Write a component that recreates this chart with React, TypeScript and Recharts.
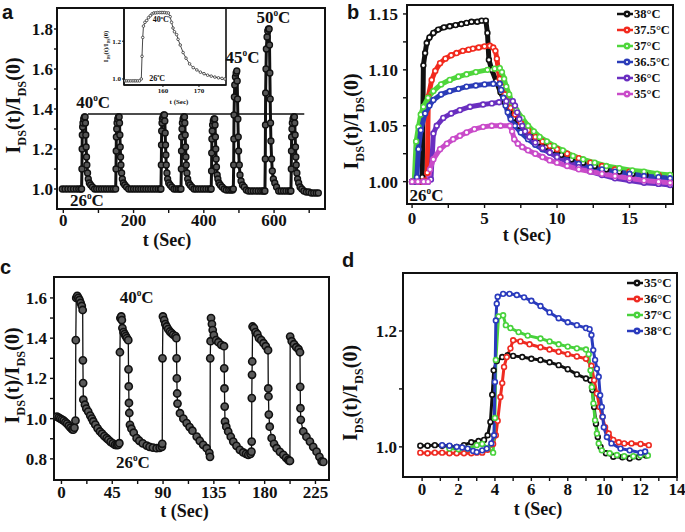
import React from 'react';
import {
  LineChart, Line, XAxis, YAxis, ReferenceArea, ReferenceDot, ReferenceLine, Legend,
} from 'recharts';

type Pt = [number, number];

// ---- panel a: long run, 26 C baseline with 40 / 45 / 50 C pulses
const runA: Pt[] = [
  [-3, 1.0], [5, 1.0], [13, 1.0], [21, 1.0], [29, 1.0], [37, 1.0], [44, 1.0], [50, 1.0],
  [52, 1.0], [53, 1.1], [53.5, 1.2], [54, 1.27], [55, 1.31], [56, 1.33], [58, 1.35], [60, 1.36], [62, 1.36],
  [63, 1.33], [64, 1.27], [65, 1.21], [66, 1.16], [67, 1.12], [69, 1.08], [71, 1.05], [74, 1.03], [78, 1.02], [83, 1.01], [89, 1.0],
  [95, 1.0], [102, 1.0], [109, 1.0], [116, 1.0], [123, 1.0], [130, 1.0], [137, 1.0], [143, 1.0],
  [149, 1.0], [150, 1.1], [150.5, 1.19], [151, 1.26], [152, 1.3], [153, 1.33], [155, 1.35], [157, 1.36], [159, 1.36],
  [160, 1.33], [161, 1.27], [162, 1.21], [163, 1.16], [164, 1.12], [166, 1.08], [168, 1.05], [171, 1.03], [175, 1.02], [180, 1.01], [186, 1.0],
  [193, 1.0], [200, 1.0], [207, 1.0], [214, 1.0], [221, 1.0], [228, 1.0], [235, 1.0], [242, 1.0], [249, 1.0], [256, 1.0], [263, 1.0], [270, 1.0], [276, 1.0],
  [278, 1.0], [279, 1.12], [279.5, 1.22], [280, 1.29], [281, 1.33], [282, 1.35], [284, 1.36], [286, 1.37], [288, 1.37],
  [289, 1.34], [290, 1.28], [291, 1.22], [292, 1.17], [293, 1.12], [295, 1.08], [297, 1.05], [300, 1.03], [304, 1.02], [309, 1.01], [315, 1.0],
  [321, 1.0], [327, 1.0], [332, 1.0],
  [335, 1.0], [336, 1.1], [336.5, 1.19], [337, 1.26], [338, 1.3], [339, 1.33], [341, 1.35], [343, 1.36], [345, 1.36],
  [346, 1.33], [347, 1.27], [348, 1.21], [349, 1.16], [350, 1.12], [352, 1.08], [354, 1.05], [357, 1.03], [361, 1.02], [366, 1.01], [372, 1.0],
  [378, 1.0], [385, 1.0], [392, 1.0], [399, 1.0], [406, 1.0], [413, 1.0], [419, 1.0],
  [421, 1.0], [422, 1.09], [422.5, 1.18], [423, 1.25], [424, 1.29], [425, 1.32], [427, 1.34], [429, 1.35], [431, 1.35],
  [432, 1.32], [433, 1.26], [434, 1.2], [435, 1.15], [436, 1.11], [438, 1.07], [440, 1.05], [443, 1.03], [447, 1.02], [452, 1.01], [458, 1.0],
  [464, 0.995], [471, 0.995], [477, 0.995], [482, 0.995],
  [484, 1.0], [485, 1.12], [485.5, 1.25], [486, 1.37], [487, 1.46], [488, 1.52], [490, 1.56], [492, 1.58], [494, 1.59],
  [495, 1.54], [496, 1.45], [497, 1.35], [498, 1.26], [499, 1.19], [501, 1.12], [503, 1.07], [506, 1.04], [510, 1.02], [515, 1.01], [521, 0.995],
  [527, 0.99], [534, 0.99], [541, 0.99], [548, 0.99], [555, 0.99], [562, 0.99], [568, 0.99], [572, 0.99],
  [574, 0.99], [575, 1.15], [575.5, 1.32], [576, 1.48], [577, 1.6], [578, 1.7], [580, 1.76], [582, 1.79], [584, 1.8], [586, 1.8],
  [587, 1.72], [588, 1.58], [589, 1.45], [590, 1.33], [591, 1.24], [593, 1.15], [595, 1.09], [598, 1.05], [602, 1.03], [607, 1.01], [613, 0.99],
  [620, 0.99], [627, 0.99], [634, 0.99], [641, 0.99], [646, 0.99],
  [648, 0.99], [649, 1.1], [649.5, 1.19], [650, 1.26], [651, 1.3], [652, 1.33], [654, 1.35], [656, 1.36], [658, 1.36],
  [659, 1.33], [660, 1.27], [661, 1.21], [662, 1.16], [663, 1.12], [665, 1.08], [667, 1.05], [670, 1.03], [674, 1.01], [679, 1.0], [685, 0.99],
  [692, 0.985], [699, 0.985], [706, 0.98], [713, 0.98], [720, 0.98], [726, 0.98],
];

// inset: one 40 C pulse, zoomed
const insetA: Pt[] = [
  [149.5, 0.99], [150, 0.99], [150.5, 0.99], [151, 0.99], [151.5, 0.99], [152, 0.99], [152.5, 0.99], [153, 0.99], [153.5, 0.99],
  [154, 1.0], [154.2, 1.12], [154.4, 1.22], [154.6, 1.28], [155, 1.3], [155.5, 1.31], [156, 1.325], [156.5, 1.335], [157, 1.345],
  [157.5, 1.35], [158, 1.35], [158.5, 1.352], [159, 1.352], [159.5, 1.352], [160, 1.352], [160.5, 1.352], [161, 1.35], [161.5, 1.35],
  [162, 1.33], [162.4, 1.3], [162.8, 1.27], [163.2, 1.25], [163.8, 1.235], [164.2, 1.21], [164.8, 1.18], [165.6, 1.14], [166.4, 1.11],
  [167.4, 1.08], [168.4, 1.06], [169.4, 1.048], [170.4, 1.036], [171.4, 1.028], [172.4, 1.02], [173.4, 1.015], [174.4, 1.01],
  [175.4, 1.006], [176.4, 1.003], [177.2, 1.0],
];

// ---- panel b: single pulses at six temperatures
const b38: Pt[] = [
  [0, 1.0], [0.25, 1.0], [0.5, 1.0], [0.7, 1.004], [0.78, 1.104], [0.9, 1.115], [1.01, 1.124], [1.2, 1.129], [1.47, 1.133],
  [1.8, 1.136], [2.2, 1.138], [2.6, 1.139], [3.0, 1.14], [3.4, 1.141], [3.76, 1.142], [4.1, 1.143], [4.5, 1.143], [4.8, 1.144],
  [5.09, 1.144], [5.2, 1.133], [5.3, 1.109], [5.5, 1.1], [5.8, 1.09], [6.1, 1.08], [6.4, 1.071], [6.7, 1.063], [7.0, 1.057],
  [7.4, 1.05], [7.8, 1.045], [8.2, 1.04], [8.7, 1.035], [9.2, 1.031], [9.7, 1.028], [10.3, 1.024], [11, 1.02], [11.8, 1.017],
  [12.6, 1.014], [13.4, 1.011], [14.3, 1.009], [15.2, 1.007], [16.1, 1.006], [17, 1.005], [17.8, 1.004],
];
const b375: Pt[] = [
  [0, 1.0], [0.3, 1.0], [0.6, 1.0], [0.9, 1.001], [1.05, 1.008], [1.12, 1.076], [1.35, 1.091], [1.6, 1.099], [1.93, 1.106],
  [2.3, 1.11], [2.7, 1.113], [3.07, 1.115], [3.5, 1.117], [3.9, 1.118], [4.2, 1.119], [4.6, 1.12], [5.0, 1.121], [5.37, 1.1215],
  [5.6, 1.12], [5.75, 1.117], [5.85, 1.11], [5.95, 1.1], [6.05, 1.092], [6.2, 1.085], [6.4, 1.078], [6.6, 1.071], [6.8, 1.066],
  [7.1, 1.06], [7.5, 1.053], [8, 1.046], [8.5, 1.04], [9, 1.036], [9.5, 1.032], [10, 1.029], [10.7, 1.025], [11.5, 1.021],
  [12.3, 1.017], [13.1, 1.014], [14, 1.011], [15, 1.009], [16, 1.007], [17, 1.006], [17.8, 1.005],
];
const b37: Pt[] = [
  [0, 1.0], [0.15, 1.0], [0.28, 1.036], [0.44, 1.049], [0.6, 1.06], [0.78, 1.067], [1.1, 1.075], [1.47, 1.081], [2.0, 1.087],
  [2.6, 1.091], [3.2, 1.094], [3.76, 1.096], [4.4, 1.098], [5.2, 1.1], [5.7, 1.101], [6.05, 1.1015], [6.2, 1.098], [6.35, 1.092],
  [6.5, 1.085], [6.7, 1.078], [6.9, 1.071], [7.2, 1.064], [7.6, 1.057], [8, 1.05], [8.4, 1.045], [8.8, 1.04], [9.3, 1.036],
  [9.8, 1.032], [10.4, 1.028], [11.1, 1.023], [11.8, 1.02], [12.6, 1.017], [13.4, 1.014], [14.3, 1.012], [15.2, 1.01],
  [16, 1.009], [16.9, 1.007], [17.8, 1.006],
];
const b365: Pt[] = [
  [0, 1.0], [0.2, 1.0], [0.33, 1.004], [0.44, 1.029], [0.6, 1.046], [0.9, 1.061], [1.2, 1.068], [1.47, 1.073], [2.0, 1.078],
  [2.6, 1.081], [3.2, 1.083], [3.76, 1.085], [4.4, 1.086], [5.0, 1.087], [5.6, 1.0875], [6.05, 1.0875], [6.15, 1.082],
  [6.3, 1.075], [6.45, 1.068], [6.6, 1.062], [6.8, 1.056], [7.1, 1.05], [7.5, 1.044], [8, 1.038], [8.5, 1.033], [9, 1.029],
  [9.5, 1.026], [10, 1.023], [10.7, 1.019], [11.5, 1.016], [12.3, 1.013], [13.1, 1.011], [14, 1.009], [15, 1.007], [16, 1.005],
  [17, 1.004], [17.8, 1.003],
];
const b36: Pt[] = [
  [0, 1.0], [0.4, 1.0], [0.8, 1.0], [1.1, 1.0], [1.3, 1.002], [1.47, 1.043], [1.7, 1.05], [2.15, 1.057], [2.7, 1.061],
  [3.3, 1.064], [4.0, 1.067], [4.9, 1.069], [5.5, 1.07], [6.0, 1.071], [6.5, 1.072], [6.95, 1.072], [7.1, 1.068], [7.25, 1.062],
  [7.4, 1.056], [7.6, 1.05], [7.8, 1.045], [8.1, 1.04], [8.5, 1.035], [9, 1.03], [9.5, 1.026], [10, 1.022], [10.7, 1.018],
  [11.5, 1.013], [12.3, 1.009], [13.1, 1.006], [14, 1.003], [15, 1.001], [16, 0.999], [17, 0.998], [17.8, 0.997],
];
const b35: Pt[] = [
  [0, 1.0], [0.4, 1.0], [0.8, 1.0], [1.1, 1.0], [1.24, 1.011], [1.47, 1.02], [1.93, 1.029], [2.4, 1.034], [2.83, 1.038],
  [3.3, 1.041], [3.76, 1.044], [4.3, 1.047], [4.9, 1.049], [5.5, 1.05], [6.1, 1.05], [6.75, 1.05], [6.9, 1.045], [7.05, 1.038],
  [7.3, 1.034], [7.6, 1.031], [8, 1.028], [8.5, 1.025], [9, 1.022], [9.5, 1.019], [10, 1.017], [10.7, 1.014], [11.5, 1.011],
  [12.3, 1.009], [13.1, 1.007], [14, 1.005], [15, 1.003], [16, 1.001], [17, 1.0], [17.8, 0.999],
];

// ---- panel c: repeated 26 <-> 40 C cycling
const runC: Pt[] = [
  [-4, 1.01], [-2.5, 1.005], [-1, 1.0], [0.5, 0.995], [2, 0.99], [3.5, 0.982], [5, 0.975], [6.5, 0.965], [8, 0.955], [9.5, 0.947],
  [10.5, 0.945], [11.5, 0.955], [12.4, 0.99], [12.7, 1.39], [13.1, 1.6], [14, 1.61], [15, 1.6], [16, 1.59], [17, 1.575], [18, 1.56],
  [18.8, 1.54], [19, 1.29], [19.2, 1.177], [19.4, 1.094], [20.8, 1.069], [22, 1.05], [23.7, 1.035], [25.5, 1.015], [27, 1.0],
  [28.2, 0.986], [30, 0.97], [32, 0.952], [34.1, 0.936], [36, 0.925], [38, 0.913], [40, 0.903], [41.5, 0.895], [43.5, 0.885],
  [45.5, 0.877], [47.4, 0.87], [49, 0.868], [50.3, 0.87], [51.3, 0.878],
  [51.8, 1.33], [52.2, 1.5], [53, 1.508], [53.5, 1.49], [54, 1.45], [55, 1.43], [56, 1.42], [57, 1.41], [58, 1.4], [59.2, 1.39],
  [59.4, 1.245], [59.6, 1.16], [59.8, 1.078], [60.1, 1.028], [60.7, 0.969], [62, 0.95], [64, 0.93], [66.6, 0.903], [69, 0.89],
  [72, 0.877], [75.5, 0.866], [78, 0.86], [81, 0.856], [84.3, 0.853], [87, 0.855], [89, 0.86], [89.3, 0.875],
  [89.5, 1.3], [89.9, 1.508], [91, 1.49], [92, 1.47], [93.2, 1.458], [94.5, 1.445], [96.1, 1.433], [97.5, 1.425], [99, 1.417],
  [101, 1.41], [101.8, 1.4], [102, 1.3], [102.2, 1.2], [102.5, 1.125], [102.8, 1.075], [105, 1.027], [108, 1.0], [110.9, 0.978],
  [113.5, 0.958], [116, 0.94], [119.8, 0.911], [122.5, 0.89], [125.5, 0.87], [128.6, 0.853], [131, 0.83], [131.6, 0.81],
  [131.8, 1.3], [132.1, 1.385], [132.5, 1.5], [133.3, 1.47], [134, 1.44], [135, 1.415], [137, 1.39], [139, 1.38], [141.5, 1.367],
  [144, 1.36], [144.2, 1.25], [144.4, 1.15], [144.6, 1.06], [144.9, 0.985], [146, 0.96], [147.7, 0.936], [150, 0.91],
  [152.2, 0.886], [155, 0.865], [158, 0.845], [161, 0.832], [163.5, 0.825], [165.5, 0.82], [167.5, 0.825], [168.3, 0.836],
  [168.5, 0.886], [168.6, 1.102], [168.8, 1.218], [169, 1.284], [169.3, 1.458], [170.5, 1.45], [172, 1.43], [173.5, 1.42],
  [175, 1.4], [177, 1.39], [179, 1.375], [181, 1.36], [183, 1.34], [183.2, 1.15], [183.4, 1.11], [183.7, 1.02], [184.5, 0.96],
  [186.2, 0.903], [188.3, 0.875], [190.6, 0.853], [193.5, 0.835], [196.5, 0.82], [199, 0.805], [200.9, 0.795], [201.8, 0.79],
  [202.4, 0.79], [202.6, 1.408], [204, 1.385], [206, 1.37], [208, 1.355], [210, 1.345], [211.3, 1.33], [211.5, 1.158],
  [211.7, 1.052], [212, 0.994], [214.2, 0.936], [217, 0.91], [220.1, 0.886], [223, 0.86], [226, 0.836], [228.5, 0.81],
  [230.5, 0.787], [232, 0.785],
];

// ---- panel d: square heating pulses at four temperatures
const d35: Pt[] = [
  [-0.1, 1.002], [0.3, 1.002], [0.7, 1.003], [1.1, 1.002], [1.5, 1.001], [1.9, 1.0], [2.3, 1.003], [2.7, 1.008], [3.1, 1.01],
  [3.4, 1.012], [3.6, 1.02], [3.75, 1.043], [3.85, 1.09], [3.93, 1.132], [4.1, 1.148], [4.4, 1.155], [4.7, 1.158], [5.0, 1.157],
  [5.5, 1.155], [6.0, 1.152], [6.5, 1.15], [7.0, 1.146], [7.5, 1.141], [8.0, 1.134], [8.5, 1.125], [9.0, 1.118], [9.25, 1.115],
  [9.35, 1.098], [9.45, 1.069], [9.55, 1.04], [9.65, 1.017], [9.8, 1.0], [10.1, 0.989], [10.5, 0.983], [11, 0.982], [11.4, 0.98],
  [11.9, 0.982], [12.3, 0.985],
];
const d36: Pt[] = [
  [-0.1, 0.99], [0.3, 0.989], [0.7, 0.99], [1.1, 0.99], [1.5, 0.989], [1.9, 0.989], [2.3, 0.989], [2.7, 0.989], [3.0, 0.99],
  [3.3, 0.99], [3.6, 0.995], [3.9, 1.005], [4.05, 1.02], [4.15, 1.045], [4.3, 1.086], [4.4, 1.11], [4.5, 1.138], [4.65, 1.155],
  [4.85, 1.17], [5.0, 1.184], [5.4, 1.182], [5.9, 1.177], [6.5, 1.172], [7.0, 1.168], [7.5, 1.164], [8.0, 1.16], [8.5, 1.156],
  [9.0, 1.152], [9.3, 1.14], [9.45, 1.115], [9.6, 1.092], [9.75, 1.069], [9.9, 1.052], [10.05, 1.034], [10.25, 1.023],
  [10.5, 1.012], [10.8, 1.008], [11.1, 1.006], [11.5, 1.006], [12, 1.005], [12.45, 1.003],
];
const d37: Pt[] = [
  [1.5, 0.997], [2.0, 0.996], [2.5, 0.997], [3.0, 1.003], [3.3, 1.005], [3.6, 0.998], [3.9, 0.99], [4.0, 1.05], [4.05, 1.15],
  [4.2, 1.225], [4.45, 1.227], [4.6, 1.21], [4.85, 1.205], [5.3, 1.198], [5.8, 1.192], [6.5, 1.187], [7.0, 1.182], [7.5, 1.177],
  [8.0, 1.173], [8.5, 1.17], [9.0, 1.168], [9.15, 1.16], [9.25, 1.132], [9.32, 1.103], [9.41, 1.075], [9.5, 1.046], [9.6, 1.023],
  [9.7, 1.006], [9.87, 0.994], [10.3, 0.989], [10.7, 0.986], [11.1, 0.984], [11.6, 0.984], [12.0, 0.985], [12.4, 0.985],
];
const d38: Pt[] = [
  [1.1, 1.003], [1.5, 1.002], [1.9, 1.0], [2.2, 0.999], [2.5, 0.997], [2.8, 0.993], [3.0, 0.991], [3.3, 0.994], [3.55, 0.997],
  [3.8, 1.006], [3.95, 1.02], [4.0, 1.112], [4.05, 1.218], [4.1, 1.247], [4.15, 1.259], [4.45, 1.264], [4.8, 1.264], [5.2, 1.262],
  [5.6, 1.258], [6.0, 1.252], [6.5, 1.243], [7.0, 1.232], [7.5, 1.222], [8.0, 1.215], [8.5, 1.21], [9.0, 1.205], [9.2, 1.203],
  [9.3, 1.193], [9.4, 1.167], [9.5, 1.15], [9.6, 1.135], [9.7, 1.121], [9.78, 1.089], [9.87, 1.069], [9.92, 1.052], [9.98, 1.034],
  [10.15, 1.017], [10.4, 1.006], [10.9, 0.997], [11.4, 0.994], [12.0, 0.99], [12.25, 0.992],
];

// ---- ticks (all marks) and the ones that carry a label
const aTicksX = [0, 100, 200, 300, 400, 500, 600, 700];
const aLabelsX = [0, 200, 400, 600];
const aTicksY = [1.0, 1.1, 1.2, 1.3, 1.4, 1.5, 1.6, 1.7, 1.8];
const aLabelsY = [1.0, 1.2, 1.4, 1.6, 1.8];
const insetTicksX = [160, 170];
const insetTicksY = [1.0, 1.2];
const bTicksX = [0, 2.5, 5, 7.5, 10, 12.5, 15, 17.5];
const bLabelsX = [0, 5, 10, 15];
const bTicksY = [1.0, 1.025, 1.05, 1.075, 1.1, 1.125, 1.15];
const bLabelsY = [1.0, 1.05, 1.1, 1.15];
const cTicksX = [0, 22.5, 45, 67.5, 90, 112.5, 135, 157.5, 180, 202.5, 225];
const cLabelsX = [0, 45, 90, 135, 180, 225];
const cTicksY = [0.8, 0.9, 1.0, 1.1, 1.2, 1.3, 1.4, 1.5, 1.6];
const cLabelsY = [0.8, 1.0, 1.2, 1.4, 1.6];
const dTicksX = [0, 1, 2, 3, 4, 5, 6, 7, 8, 9, 10, 11, 12, 13, 14];
const dLabelsX = [0, 2, 4, 6, 8, 10, 12, 14];
const dTicksY = [1.0, 1.1, 1.2];
const dLabelsY = [1.0, 1.2];

const SERIF = '"Liberation Serif", "Times New Roman", serif';
const INK = '#111';

const rows = (pts: Pt[]) => pts.map(([t, v]) => ({ t, v }));
const pick = (labels: number[], digits: number | null) => (v: number) =>
  labels.some((l) => Math.abs(l - v) < 1e-9) ? (digits === null ? String(v) : v.toFixed(digits)) : '';
const tickFont = (fz: number) => ({ fontFamily: SERIF, fontWeight: 700, fontSize: fz, fill: INK });
const axisLine = { stroke: INK, strokeWidth: 2 };
const tickLine = { stroke: INK, strokeWidth: 1.4 };

const YTitle = (props: any) => {
  const { viewBox, fz = 20, shiftX = 18, shiftY = 0 } = props;
  const x = viewBox.x + shiftX;
  const y = viewBox.y + viewBox.height / 2 + shiftY;
  const sub = fz * 0.62;
  const drop = fz * 0.28;
  return (
    <text transform={`translate(${x},${y}) rotate(-90)`} textAnchor="middle" fontFamily={SERIF}
      fontWeight={700} fontSize={fz} fill={INK}>
      I<tspan fontSize={sub} dy={drop}>DS</tspan><tspan dy={-drop}>(t)/I</tspan>
      <tspan fontSize={sub} dy={drop}>DS</tspan><tspan dy={-drop}>(0)</tspan>
    </text>
  );
};

const XTitle = (props: any) => {
  const { viewBox, fz = 18, shiftX = 0, shiftY = 36 } = props;
  return (
    <text x={viewBox.x + viewBox.width / 2 + shiftX} y={viewBox.y + shiftY} textAnchor="middle"
      fontFamily={SERIF} fontWeight={700} fontSize={fz} fill={INK}>
      t (Sec)
    </text>
  );
};

// temperature note, e.g. 40 with a raised "o" and C
const Deg = (props: any) => {
  const { viewBox, temp, fz = 17 } = props;
  const x = viewBox.x + (viewBox.width || 0) / 2;
  const y = viewBox.y + (viewBox.height || 0) / 2;
  return (
    <text x={x} y={y} textAnchor="middle" fontFamily={SERIF} fontWeight={700} fontSize={fz} fill={INK}>
      {temp}<tspan fontSize={fz * 0.55} dy={-fz * 0.42}>o</tspan><tspan dy={fz * 0.42}>C</tspan>
    </text>
  );
};

type Series = { name: string; color: string; pts: Pt[] };

// legend drawn in the figure's own order (recharts would sort it)
const SeriesKey = (props: any) => {
  const { items = [], fz = 12.5 } = props;
  return (
    <div style={{ fontFamily: SERIF, fontWeight: 700, fontSize: fz, color: INK }}>
      {items.map((s: Series) => (
        <div key={s.name} style={{ display: 'flex', alignItems: 'center', height: 16 }}>
          <svg width={16} height={10} style={{ display: 'block' }}>
            <line x1={0} y1={5} x2={16} y2={5} stroke={s.color} strokeWidth={2.5} />
            <circle cx={10} cy={5} r={3.4} fill={s.color} />
            <circle cx={10} cy={5} r={1.1} fill="#fff" />
          </svg>
          <span style={{ marginLeft: 1 }}>{s.name}</span>
        </div>
      ))}
    </div>
  );
};

function PanelA() {
  const xd: [number, number] = [-18, 745];
  const yd: [number, number] = [0.9, 1.905];
  return (
    <div style={{ position: 'absolute', left: 0, top: 0 }}>
      <LineChart width={330} height={255} margin={{ top: 8, right: 5, left: 0, bottom: 0 }}>
        <XAxis type="number" dataKey="t" domain={xd} ticks={aTicksX} interval={0} allowDataOverflow height={46}
          tickFormatter={pick(aLabelsX, null)} axisLine={axisLine} tickLine={tickLine} tickSize={4} tickMargin={1}
          tick={tickFont(17)} label={<XTitle shiftX={-24} shiftY={37} />} />
        <YAxis type="number" domain={yd} ticks={aTicksY} interval={0} allowDataOverflow width={57}
          tickFormatter={pick(aLabelsY, 1)} axisLine={axisLine} tickLine={tickLine} tickSize={3} tickMargin={1}
          tick={tickFont(17)} label={<YTitle shiftX={20} shiftY={-3} />} />
        <ReferenceArea x1={xd[0]} x2={xd[1]} y1={yd[0]} y2={yd[1]} fill="none" stroke={INK} strokeWidth={2}
          ifOverflow="visible" />
        <ReferenceLine segment={[{ x: 70, y: 1.375 }, { x: 686, y: 1.375 }]} stroke={INK} strokeWidth={1.6} />
        <Line data={rows(runA)} dataKey="v" stroke={INK} strokeWidth={3} isAnimationActive={false}
          dot={{ r: 3, fill: '#555', stroke: INK, strokeWidth: 1.3 }} />
        <ReferenceDot x={85} y={1.405} r={0} ifOverflow="visible" label={<Deg temp="40" />} />
        <ReferenceDot x={67} y={0.915} r={0} ifOverflow="visible" label={<Deg temp="26" />} />
        <ReferenceDot x={510} y={1.628} r={0} ifOverflow="visible" label={<Deg temp="45" />} />
        <ReferenceDot x={598} y={1.828} r={0} ifOverflow="visible" label={<Deg temp="50" />} />
      </LineChart>
    </div>
  );
}

function InsetA() {
  const xd: [number, number] = [149.2, 177.5];
  const yd: [number, number] = [0.968, 1.376];
  return (
    <div style={{ position: 'absolute', left: 100, top: 0 }}>
      <LineChart width={130} height={110} margin={{ top: 8, right: 4, left: 0, bottom: 0 }}>
        <XAxis type="number" dataKey="t" domain={xd} ticks={insetTicksX} interval={0} allowDataOverflow height={25}
          axisLine={{ stroke: INK, strokeWidth: 1.5 }} tickLine={{ stroke: INK, strokeWidth: 1 }} tickSize={2}
          tickMargin={1} tick={tickFont(7)} label={<XTitle fz={7} shiftX={4} shiftY={19} />} />
        <YAxis type="number" domain={yd} ticks={insetTicksY} interval={0} allowDataOverflow width={24}
          tickFormatter={pick(insetTicksY, 1)} axisLine={{ stroke: INK, strokeWidth: 1.5 }}
          tickLine={{ stroke: INK, strokeWidth: 1 }} tickSize={2} tickMargin={1} tick={tickFont(7)}
          label={<YTitle fz={6.5} shiftX={8} />} />
        <ReferenceArea x1={xd[0]} x2={xd[1]} y1={yd[0]} y2={yd[1]} fill="none" stroke={INK} strokeWidth={1.6}
          ifOverflow="visible" />
        <Line data={rows(insetA)} dataKey="v" stroke="#333" strokeWidth={0.9} isAnimationActive={false}
          dot={{ r: 1.3, fill: '#fff', stroke: '#333', strokeWidth: 0.8 }} />
        <ReferenceDot x={159.4} y={1.3} r={0} ifOverflow="visible" label={<Deg temp="40" fz={8} />} />
        <ReferenceDot x={158.4} y={0.99} r={0} ifOverflow="visible" label={<Deg temp="26" fz={8} />} />
      </LineChart>
    </div>
  );
}

const bSeries: Series[] = [
  { name: '38°C', color: '#111111', pts: b38 },
  { name: '37.5°C', color: '#f22a1e', pts: b375 },
  { name: '37°C', color: '#4fd63c', pts: b37 },
  { name: '36.5°C', color: '#2b3cb8', pts: b365 },
  { name: '36°C', color: '#6a2fc0', pts: b36 },
  { name: '35°C', color: '#c94bc9', pts: b35 },
];

function PanelB() {
  const xd: [number, number] = [-0.35, 18];
  const yd: [number, number] = [0.98, 1.158];
  return (
    <div style={{ position: 'absolute', left: 340, top: 0 }}>
      <LineChart width={345} height={255} margin={{ top: 5, right: 12, left: 0, bottom: 0 }}>
        <XAxis type="number" dataKey="t" domain={xd} ticks={bTicksX} interval={0} allowDataOverflow height={51}
          tickFormatter={pick(bLabelsX, null)} axisLine={axisLine} tickLine={tickLine} tickSize={4} tickMargin={4}
          tick={tickFont(17)} label={<XTitle shiftX={-13} shiftY={37} />} />
        <YAxis type="number" domain={yd} ticks={bTicksY} interval={0} allowDataOverflow width={67}
          tickFormatter={pick(bLabelsY, 2)} axisLine={axisLine} tickLine={tickLine} tickSize={4} tickMargin={5}
          tick={tickFont(17)} label={<YTitle shiftX={18} shiftY={17} />} />
        <ReferenceArea x1={xd[0]} x2={xd[1]} y1={yd[0]} y2={yd[1]} fill="none" stroke={INK} strokeWidth={2}
          ifOverflow="visible" />
        {bSeries.map((s) => (
          <Line key={s.name} name={s.name} data={rows(s.pts)} dataKey="v" stroke={s.color} strokeWidth={5}
            isAnimationActive={false} dot={{ r: 2.4, fill: '#fff', stroke: s.color, strokeWidth: 1.6 }} />
        ))}
        <ReferenceDot x={1.0} y={0.983} r={0} ifOverflow="visible" label={<Deg temp="26" />} />
        <Legend layout="vertical" align="center" verticalAlign="middle" content={<SeriesKey items={bSeries} />}
          wrapperStyle={{ left: 277, top: 6, width: 'auto', height: 'auto' }} />
      </LineChart>
    </div>
  );
}

function PanelC() {
  const xd: [number, number] = [-6.6, 237];
  const yd: [number, number] = [0.695, 1.704];
  return (
    <div style={{ position: 'absolute', left: 0, top: 260 }}>
      <LineChart width={340} height={272} margin={{ top: 17, right: 11, left: 0, bottom: 0 }}>
        <XAxis type="number" dataKey="t" domain={xd} ticks={cTicksX} interval={0} allowDataOverflow height={52}
          tickFormatter={pick(cLabelsX, null)} axisLine={axisLine} tickLine={tickLine} tickSize={4} tickMargin={2}
          tick={tickFont(17)} label={<XTitle shiftX={-7} shiftY={37} />} />
        <YAxis type="number" domain={yd} ticks={cTicksY} interval={0} allowDataOverflow width={54}
          tickFormatter={pick(cLabelsY, 1)} axisLine={axisLine} tickLine={tickLine} tickSize={4} tickMargin={3}
          tick={tickFont(17)} label={<YTitle shiftX={19} shiftY={-3} />} />
        <ReferenceArea x1={xd[0]} x2={xd[1]} y1={yd[0]} y2={yd[1]} fill="none" stroke={INK} strokeWidth={2}
          ifOverflow="visible" />
        <Line data={rows(runC)} dataKey="v" stroke={INK} strokeWidth={1.3} isAnimationActive={false}
          dot={{ r: 3.6, fill: '#5a5a5a', stroke: INK, strokeWidth: 1.6 }} />
        <ReferenceDot x={66.6} y={1.576} r={0} ifOverflow="visible" label={<Deg temp="40" />} />
        <ReferenceDot x={63.3} y={0.755} r={0} ifOverflow="visible" label={<Deg temp="26" />} />
      </LineChart>
    </div>
  );
}

const dSeries: Series[] = [
  { name: '35°C', color: '#111111', pts: d35 },
  { name: '36°C', color: '#ee2b22', pts: d36 },
  { name: '37°C', color: '#48d23c', pts: d37 },
  { name: '38°C', color: '#2a3bbd', pts: d38 },
];

function PanelD() {
  const xd: [number, number] = [-1.05, 14];
  const yd: [number, number] = [0.948, 1.3];
  return (
    <div style={{ position: 'absolute', left: 340, top: 260 }}>
      <LineChart width={345} height={272} margin={{ top: 13, right: 8, left: 0, bottom: 0 }}>
        <XAxis type="number" dataKey="t" domain={xd} ticks={dTicksX} interval={0} allowDataOverflow height={55}
          tickFormatter={pick(dLabelsX, null)} axisLine={axisLine} tickLine={tickLine} tickSize={4} tickMargin={2}
          tick={tickFont(17)} label={<XTitle shiftX={-2} shiftY={38} />} />
        <YAxis type="number" domain={yd} ticks={dTicksY} interval={0} allowDataOverflow width={63}
          tickFormatter={pick(dLabelsY, 1)} axisLine={axisLine} tickLine={tickLine} tickSize={4} tickMargin={2}
          tick={tickFont(17)} label={<YTitle shiftX={17} shiftY={18} />} />
        <ReferenceArea x1={xd[0]} x2={xd[1]} y1={yd[0]} y2={yd[1]} fill="none" stroke={INK} strokeWidth={2}
          ifOverflow="visible" />
        {dSeries.map((s) => (
          <Line key={s.name} name={s.name} data={rows(s.pts)} dataKey="v" stroke={s.color} strokeWidth={3}
            isAnimationActive={false} dot={{ r: 2.4, fill: '#fff', stroke: s.color, strokeWidth: 1.6 }} />
        ))}
        <Legend layout="vertical" align="center" verticalAlign="middle"
          content={<SeriesKey items={dSeries} fz={13} />}
          wrapperStyle={{ left: 287, top: 15, width: 'auto', height: 'auto' }} />
      </LineChart>
    </div>
  );
}

export default function App() {
  return (
    <div style={{ position: 'absolute', left: 0, top: 0, width: 685, height: 532, background: '#fff', overflow: 'hidden' }}>
      <PanelA />
      <InsetA />
      <PanelB />
      <PanelC />
      <PanelD />
      <svg width={685} height={532} style={{ position: 'absolute', left: 0, top: 0, pointerEvents: 'none' }}>
        <g fontFamily='"Liberation Sans", Arial, sans-serif' fontWeight={700} fontSize={20} fill={INK}>
          <text x={2} y={18.5}>a</text>
          <text x={347} y={19}>b</text>
          <text x={0} y={274}>c</text>
          <text x={342} y={267}>d</text>
        </g>
      </svg>
    </div>
  );
}
